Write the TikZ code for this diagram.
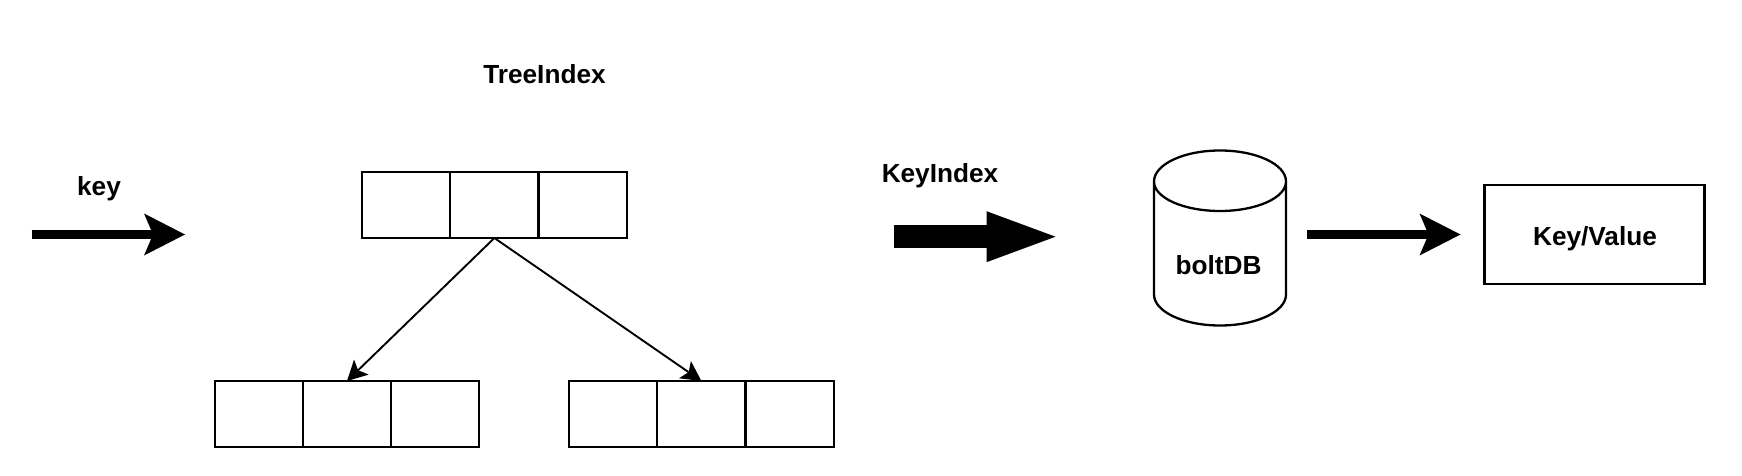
\documentclass[tikz,border=0pt]{standalone}
\usepackage{fontspec}
\setmainfont{Liberation Sans}
\usetikzlibrary{arrows.meta}
\tikzset{
  cell/.style={draw=black,line width=2.3pt,inner sep=0pt,outer sep=0pt,minimum width=88.2pt,minimum height=66pt},
  lbl/.style={inner sep=0pt,font=\fontsize{26.2}{30}\selectfont\bfseries,text=black},
  thinarrow/.style={draw=black,line width=1.9pt,-{Stealth[length=20pt,width=21pt,inset=4.5pt,line width=0pt]}},
  fatarrow/.style={draw=black,line width=9pt,-{Stealth[length=41pt,width=42pt,inset=9pt,line width=0pt]}},
  blockarrow/.style={draw=black,line width=23pt,-{Stealth[length=69pt,width=51pt,inset=0pt,line width=0pt]}},
  shape line/.style={draw=black,line width=2.3pt}
}
\begin{document}
\begin{tikzpicture}[x=1pt,y=-1pt]
\useasboundingbox (0,0) rectangle (1742,476);
% labels
\node[lbl] (tree) at (544.5,74) {TreeIndex};
\node[lbl] (key) at (99,189) {key};
\node[lbl] (ki) at (940,175.5) {KeyIndex};
% top tree node
\node[cell] (t1) at (406.2,205) {};
\node[cell] (t2) at (494.4,205) {};
\node[cell] (t3) at (582.6,205) {};
% lower left
\node[cell] (l1) at (258.8,414) {};
\node[cell] (l2) at (347,414) {};
\node[cell] (l3) at (435.2,414) {};
% lower right
\node[cell] (r1) at (613.2,414) {};
\node[cell] (r2) at (701.4,414) {};
\node[cell] (r3) at (789.6,414) {};
\draw[thinarrow] (t2.south) -- (l2.north);
\draw[thinarrow] (t2.south) -- (r2.north);
% free arrows
\coordinate (a1s) at (31.5,234.5);
\coordinate (a1e) at (185,234.5);
\draw[fatarrow] (a1s) -- (a1e);
\coordinate (a2s) at (893.5,236.7);
\coordinate (a2e) at (1055.5,236.7);
\draw[blockarrow] (a2s) -- (a2e);
\coordinate (a3s) at (1307,234.5);
\coordinate (a3e) at (1460.5,234.5);
\draw[fatarrow] (a3s) -- (a3e);
% cylinder
\draw[shape line] (1154,181.5) -- (1154,294.5) arc[start angle=180,end angle=360,x radius=66,y radius=-31]
  -- (1286,181.5) arc[start angle=0,end angle=180,x radius=66,y radius=-31]
  arc[start angle=180,end angle=360,x radius=66,y radius=-29.5];
\node[lbl] (bolt) at (1218.5,265) {boltDB};
% key/value
\node[cell,minimum width=220pt,minimum height=99pt] (kv) at (1594.5,234.5) {};
\node[lbl] (kvt) at (1595,238.5) {Key/Value};
\end{tikzpicture}
\end{document}
